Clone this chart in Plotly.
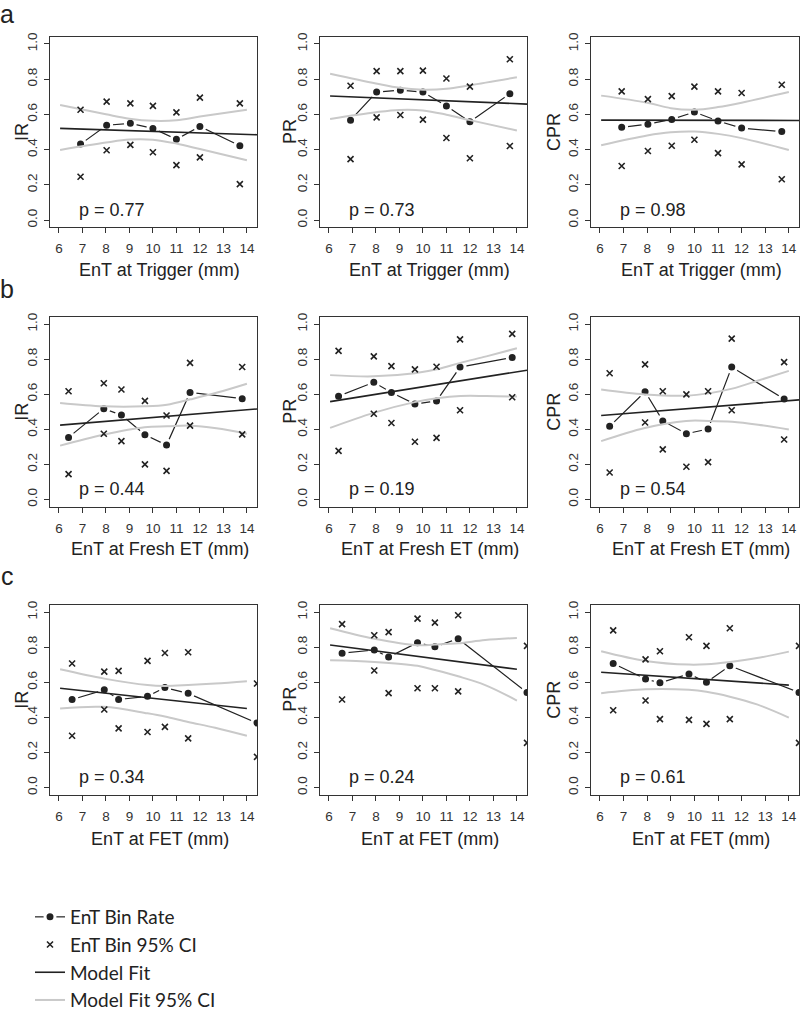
import plotly.graph_objects as go

# ---------------- data ----------------
rows = ["a", "b", "c"]
measures = ["IR", "PR", "CPR"]
x_titles = ["EnT at Trigger (mm)", "EnT at Fresh ET (mm)", "EnT at FET (mm)"]
x_ticks = [6, 7, 8, 9, 10, 11, 12, 13, 14]
y_ticks = [0.0, 0.2, 0.4, 0.6, 0.8, 1.0]
y_tick_text = ["0.0", "0.2", "0.4", "0.6", "0.8", "1.0"]

# bin centres (mm)
bins_a = [6.92, 8.03, 9.04, 10.0, 11.0, 12.0, 13.7]
bins_b = [6.41, 7.91, 8.66, 9.66, 10.58, 11.58, 13.8]
bins_c = [6.56, 7.93, 8.54, 9.77, 10.51, 11.5, 14.43]

# bin rates and 95% CI (row a: trigger)
a_ir_rate = [0.431, 0.538, 0.549, 0.520, 0.458, 0.531, 0.422]
a_ir_hi = [0.626, 0.672, 0.662, 0.648, 0.611, 0.695, 0.662]
a_ir_lo = [0.246, 0.396, 0.427, 0.385, 0.312, 0.356, 0.204]
a_pr_rate = [0.567, 0.726, 0.737, 0.726, 0.647, 0.558, 0.717]
a_pr_hi = [0.762, 0.845, 0.845, 0.848, 0.803, 0.757, 0.912]
a_pr_lo = [0.346, 0.583, 0.596, 0.570, 0.466, 0.351, 0.420]
a_cpr_rate = [0.526, 0.544, 0.571, 0.613, 0.562, 0.522, 0.502]
a_cpr_hi = [0.730, 0.686, 0.703, 0.757, 0.730, 0.721, 0.768]
a_cpr_lo = [0.307, 0.392, 0.422, 0.456, 0.380, 0.316, 0.232]

# row b: fresh ET
b_ir_rate = [0.354, 0.518, 0.481, 0.369, 0.310, 0.610, 0.575]
b_ir_hi = [0.617, 0.663, 0.627, 0.562, 0.479, 0.779, 0.755]
b_ir_lo = [0.145, 0.375, 0.333, 0.200, 0.163, 0.421, 0.371]
b_pr_rate = [0.589, 0.668, 0.610, 0.544, 0.562, 0.755, 0.810]
b_pr_hi = [0.847, 0.816, 0.760, 0.742, 0.757, 0.913, 0.944]
b_pr_lo = [0.277, 0.489, 0.436, 0.329, 0.351, 0.509, 0.583]
b_cpr_rate = [0.417, 0.614, 0.448, 0.375, 0.402, 0.755, 0.573]
b_cpr_hi = [0.720, 0.770, 0.617, 0.599, 0.617, 0.917, 0.783]
b_cpr_lo = [0.154, 0.439, 0.286, 0.187, 0.213, 0.509, 0.342]

# row c: FET
c_ir_rate = [0.502, 0.557, 0.502, 0.520, 0.570, 0.537, 0.368]
c_ir_hi = [0.707, 0.661, 0.665, 0.722, 0.767, 0.771, 0.593]
c_ir_lo = [0.295, 0.445, 0.337, 0.317, 0.346, 0.280, 0.175]
c_pr_rate = [0.766, 0.784, 0.744, 0.826, 0.802, 0.848, 0.542]
c_pr_hi = [0.932, 0.868, 0.886, 0.963, 0.940, 0.982, 0.808]
c_pr_lo = [0.502, 0.667, 0.538, 0.566, 0.566, 0.548, 0.255]
c_cpr_rate = [0.707, 0.619, 0.597, 0.648, 0.600, 0.694, 0.542]
c_cpr_hi = [0.896, 0.731, 0.777, 0.857, 0.808, 0.908, 0.808]
c_cpr_lo = [0.441, 0.496, 0.390, 0.386, 0.363, 0.390, 0.255]

# model fit (straight line end points) and model 95% CI curves
fit_x_a = [6.05, 14.43]
fit_x_b = [6.05, 14.43]
fit_x_c = [6.05, 14.0]
grid_a = [6.05, 8, 9, 10, 11, 12, 14.0]
grid_b = [6.05, 7.9, 9.65, 10.6, 11.6, 12.7, 14.0]
grid_c = [6.05, 7.93, 9.77, 10.51, 11.5, 12.65, 14.0]

a_ir_fit = [0.520, 0.484]
a_ir_fit_hi = [0.653, 0.600, 0.575, 0.563, 0.566, 0.587, 0.626]
a_ir_fit_lo = [0.398, 0.440, 0.457, 0.456, 0.434, 0.403, 0.339]
a_pr_fit = [0.704, 0.658]
a_pr_fit_hi = [0.830, 0.775, 0.750, 0.740, 0.745, 0.765, 0.810]
a_pr_fit_lo = [0.574, 0.612, 0.625, 0.622, 0.598, 0.567, 0.508]
a_cpr_fit = [0.567, 0.565]
a_cpr_fit_hi = [0.706, 0.666, 0.635, 0.626, 0.641, 0.666, 0.726]
a_cpr_fit_lo = [0.425, 0.480, 0.498, 0.502, 0.489, 0.465, 0.398]

b_ir_fit = [0.424, 0.516]
b_ir_fit_hi = [0.550, 0.531, 0.531, 0.540, 0.571, 0.608, 0.660]
b_ir_fit_lo = [0.307, 0.369, 0.412, 0.417, 0.421, 0.406, 0.375]
b_pr_fit = [0.558, 0.737]
b_pr_fit_hi = [0.709, 0.702, 0.720, 0.742, 0.779, 0.816, 0.862]
b_pr_fit_lo = [0.408, 0.494, 0.555, 0.577, 0.590, 0.590, 0.587]
b_cpr_fit = [0.479, 0.568]
b_cpr_fit_hi = [0.627, 0.599, 0.592, 0.605, 0.632, 0.678, 0.733]
b_cpr_fit_lo = [0.333, 0.408, 0.448, 0.448, 0.443, 0.426, 0.399]

c_ir_fit = [0.566, 0.451]
c_ir_fit_hi = [0.674, 0.621, 0.584, 0.579, 0.584, 0.593, 0.606]
c_ir_fit_lo = [0.451, 0.460, 0.423, 0.405, 0.374, 0.341, 0.295]
c_pr_fit = [0.813, 0.674]
c_pr_fit_hi = [0.908, 0.848, 0.811, 0.815, 0.822, 0.841, 0.853]
c_pr_fit_lo = [0.725, 0.716, 0.694, 0.670, 0.634, 0.584, 0.496]
c_cpr_fit = [0.657, 0.584]
c_cpr_fit_hi = [0.777, 0.722, 0.701, 0.703, 0.716, 0.738, 0.775]
c_cpr_fit_lo = [0.538, 0.560, 0.557, 0.546, 0.518, 0.474, 0.399]

p_values = [["0.77", "0.73", "0.98"], ["0.44", "0.19", "0.54"], ["0.34", "0.24", "0.61"]]

panels = [
    [(bins_a, a_ir_rate, a_ir_lo, a_ir_hi, fit_x_a, a_ir_fit, grid_a, a_ir_fit_lo, a_ir_fit_hi),
     (bins_a, a_pr_rate, a_pr_lo, a_pr_hi, fit_x_a, a_pr_fit, grid_a, a_pr_fit_lo, a_pr_fit_hi),
     (bins_a, a_cpr_rate, a_cpr_lo, a_cpr_hi, fit_x_a, a_cpr_fit, grid_a, a_cpr_fit_lo, a_cpr_fit_hi)],
    [(bins_b, b_ir_rate, b_ir_lo, b_ir_hi, fit_x_b, b_ir_fit, grid_b, b_ir_fit_lo, b_ir_fit_hi),
     (bins_b, b_pr_rate, b_pr_lo, b_pr_hi, fit_x_b, b_pr_fit, grid_b, b_pr_fit_lo, b_pr_fit_hi),
     (bins_b, b_cpr_rate, b_cpr_lo, b_cpr_hi, fit_x_b, b_cpr_fit, grid_b, b_cpr_fit_lo, b_cpr_fit_hi)],
    [(bins_c, c_ir_rate, c_ir_lo, c_ir_hi, fit_x_c, c_ir_fit, grid_c, c_ir_fit_lo, c_ir_fit_hi),
     (bins_c, c_pr_rate, c_pr_lo, c_pr_hi, fit_x_c, c_pr_fit, grid_c, c_pr_fit_lo, c_pr_fit_hi),
     (bins_c, c_cpr_rate, c_cpr_lo, c_cpr_hi, fit_x_c, c_cpr_fit, grid_c, c_cpr_fit_lo, c_cpr_fit_hi)],
]

# ---------------- layout geometry (pixels) ----------------
W, H = 800, 1019
col_px = [(50, 257), (320, 527), (591, 799)]
row_px = [(38, 235), (328, 524), (626, 822)]
xtitle_y = [279, 568, 868]
ytitle_x = [22, 290, 554]
letter_y = [15, 299, 596]

FONT = "Liberation Sans, Arial, sans-serif"
INK = "#222222"
GRAY = "#c9c9c9"

fig = go.Figure()
layout = dict(width=W, height=H, autosize=False,
              margin=dict(l=0, r=0, t=0, b=0),
              paper_bgcolor="white", plot_bgcolor="white",
              font=dict(family=FONT, color=INK),
              annotations=[])

k = 0
for r in range(3):
    for c in range(3):
        k += 1
        xa = "x" if k == 1 else f"x{k}"
        ya = "y" if k == 1 else f"y{k}"
        bx, rate, lo, hi, fx, fy, gx, glo, ghi = panels[r][c]
        first = (k == 1)
        # bin rate (bottom layer so the white rings only cut its own line)
        fig.add_trace(go.Scatter(
            x=bx, y=rate, mode="lines+markers", name="EnT Bin Rate",
            line=dict(color=INK, width=1.2),
            marker=dict(symbol="circle", size=10, color=INK,
                        line=dict(color="white", width=3)),
            xaxis=xa, yaxis=ya, showlegend=first, legendrank=1))
        # model CI
        fig.add_trace(go.Scatter(
            x=gx, y=ghi, mode="lines", name="Model Fit 95% CI",
            line=dict(color=GRAY, width=2, shape="spline", smoothing=1.0),
            xaxis=xa, yaxis=ya, showlegend=False))
        fig.add_trace(go.Scatter(
            x=gx, y=glo, mode="lines", name="Model Fit 95% CI",
            line=dict(color=GRAY, width=2, shape="spline", smoothing=1.0),
            xaxis=xa, yaxis=ya, showlegend=first, legendrank=4))
        # model fit
        fig.add_trace(go.Scatter(
            x=fx, y=fy, mode="lines", name="Model Fit",
            line=dict(color=INK, width=1.6),
            xaxis=xa, yaxis=ya, showlegend=first, legendrank=3))
        # bin CI crosses
        fig.add_trace(go.Scatter(
            x=bx + bx, y=hi + lo, mode="markers", name="EnT Bin 95% CI",
            marker=dict(symbol="x-thin", size=6, color=INK,
                        line=dict(color=INK, width=1.6)),
            xaxis=xa, yaxis=ya, showlegend=first, legendrank=2))

        x0, x1 = col_px[c]
        y0, y1 = row_px[r]
        axis_common = dict(showgrid=False, zeroline=False, showline=True,
                           mirror=True, linecolor="#333333", linewidth=1,
                           ticks="outside", ticklen=5, tickwidth=1,
                           tickcolor="#333333", automargin=False,
                           tickfont=dict(family=FONT, size=13.5, color="#333333"))
        layout["xaxis" if k == 1 else f"xaxis{k}"] = dict(
            axis_common, domain=[x0 / W, x1 / W], range=[5.62, 14.43],
            tickvals=x_ticks, ticktext=[str(t) for t in x_ticks],
            anchor=ya, ticklabelstandoff=4)
        layout["yaxis" if k == 1 else f"yaxis{k}"] = dict(
            axis_common, domain=[1 - y1 / H, 1 - y0 / H], range=[-0.04, 1.04],
            tickvals=y_ticks, ticktext=y_tick_text, tickangle=-90,
            anchor=xa, ticklabelstandoff=2)

        # p-value
        layout["annotations"].append(dict(
            x=6.77, y=0.06, xref=xa, yref=ya, text=f"p = {p_values[r][c]}",
            showarrow=False, xanchor="left", yanchor="middle",
            font=dict(family=FONT, size=18, color=INK)))
        # x title
        layout["annotations"].append(dict(
            x=((x0 + x1) / 2 + 6) / W, y=1 - xtitle_y[r] / H, xref="paper", yref="paper",
            text=x_titles[r], showarrow=False, xanchor="center", yanchor="middle",
            font=dict(family=FONT, size=18, color=INK)))
        # y title
        layout["annotations"].append(dict(
            x=ytitle_x[c] / W, y=1 - (y0 + y1) / 2 / H, xref="paper", yref="paper",
            text=measures[c], showarrow=False, textangle=-90,
            xanchor="center", yanchor="middle",
            font=dict(family=FONT, size=18, color=INK)))
    # row letter
    layout["annotations"].append(dict(
        x=7 / W, y=1 - letter_y[r] / H, xref="paper", yref="paper",
        text=rows[r], showarrow=False, xanchor="center", yanchor="middle",
        font=dict(family=FONT, size=25, color=INK)))

layout["legend"] = dict(x=30 / W, y=1 - 929 / H, xanchor="left", yanchor="top",
                        bgcolor="rgba(0,0,0,0)", traceorder="normal",
                        font=dict(family="Lato, Carlito, sans-serif", size=19, color=INK),
                        itemwidth=30)
layout["showlegend"] = True
fig.update_layout(**layout)

fig.write_html("out.html", config={"displayModeBar": False},
               post_script="document.body.style.margin='0';document.body.style.padding='0';"
                           "document.body.style.overflow='hidden';")
